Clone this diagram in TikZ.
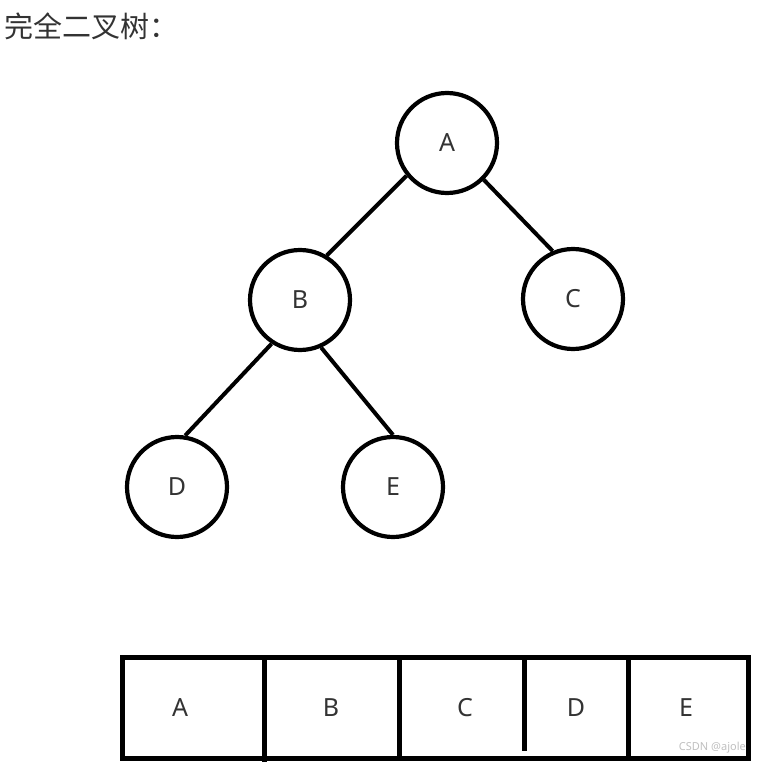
\documentclass[tikz,border=0pt]{standalone}
\usepackage{fontspec}
\setmainfont{Noto Sans}
\newfontfamily\cjk{Noto Sans CJK SC}
\definecolor{txt}{HTML}{333333}
\begin{document}
\begin{tikzpicture}[x=1pt,y=-1pt,
  treenode/.style={circle,draw=black,line width=4.2pt,minimum size=100pt,inner sep=0pt,
    font=\fontsize{25}{28}\selectfont,text=txt},
  edge/.style={line width=4pt,black},
  cell/.style={font=\fontsize{25}{28}\selectfont,text=txt,inner sep=0pt},
  grid/.style={line width=5pt,black}]
\useasboundingbox (0,0) rectangle (756,762);
\node[anchor=west,inner sep=0pt,text=txt,font=\cjk\fontsize{29}{32}\selectfont] (title) at (4,26) {完全二叉树：};
% tree
\node[treenode] (A) at (447,143) {A};
\node[treenode] (B) at (300,300) {B};
\node[treenode] (C) at (573,299) {C};
\node[treenode] (D) at (177,487) {D};
\node[treenode] (E) at (393,487) {E};
\draw[edge] (A.-141) -- (B.59);
\draw[edge] (A.-45) -- (C.113);
\draw[edge] (B.-123) -- (D.81);
\draw[edge] (B.-66) -- (E.90);
% array
\draw[grid] (122,657) rectangle (748,758);
\draw[grid] (264,657) -- (264,762);
\draw[grid] (399,657) -- (399,758);
\draw[grid] (524,657) -- (524,751);
\draw[grid] (628,657) -- (628,758);
\node[cell] (c1) at (180,708) {A};
\node[cell] (c2) at (331,708) {B};
\node[cell] (c3) at (465,708) {C};
\node[cell] (c4) at (576,708) {D};
\node[cell] (c5) at (686,708) {E};
\node[anchor=east,inner sep=0pt,text=black!25,font=\fontsize{11}{12}\selectfont] (wm) at (746,748) {CSDN @ajole};
\end{tikzpicture}
\end{document}
